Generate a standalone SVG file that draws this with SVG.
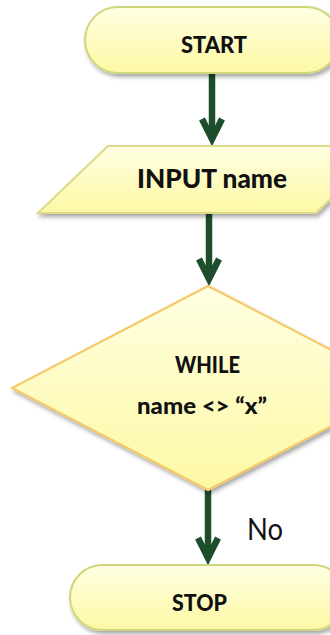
<svg xmlns="http://www.w3.org/2000/svg" width="330" height="635" viewBox="0 0 330 635">
  <style>
    .shape { stroke-width: 2; filter: url(#shadow); }
    .term { fill: url(#paleYellow); stroke: #cfd67c; }
    .io { fill: url(#paleYellow); stroke: #dcd98a; }
    .decision { fill: url(#paleYellow); stroke: #f4c865; }
    .label { font-family: Lato, "Open Sans", sans-serif; font-weight: 900; fill: #111; text-anchor: middle; }
    .flow { stroke: #1e4d2b; stroke-width: 6.5; fill: none; marker-end: url(#chevron); }
    .edge-label { font-family: Lato, "Open Sans", sans-serif; fill: #111; }
  </style>
  <defs>
    <linearGradient id="paleYellow" x1="0" y1="0" x2="0" y2="1">
      <stop offset="0" stop-color="#ffffe2"/>
      <stop offset="1" stop-color="#fdf8a4"/>
    </linearGradient>
    <filter id="shadow" x="-10%" y="-10%" width="130%" height="140%">
      <feDropShadow dx="2" dy="3" stdDeviation="2" flood-color="#000" flood-opacity="0.35"/>
    </filter>
    <marker id="chevron" markerUnits="userSpaceOnUse" markerWidth="40" markerHeight="40" refX="0" refY="0" orient="auto" style="overflow:visible">
      <path d="M -20 -10 L 0 0 L -20 10" fill="none" stroke="#1e4d2b" stroke-width="6.5" stroke-linejoin="miter"/>
    </marker>
  </defs>

  <!-- connectors -->
  <g id="connectors">
    <line class="flow" x1="212" y1="73" x2="212" y2="139"/>
    <line class="flow" x1="209" y1="213" x2="209" y2="279"/>
    <line class="flow" x1="208" y1="490" x2="208" y2="558"/>
    <text class="edge-label" x="247" y="540" font-size="31" textLength="36" lengthAdjust="spacingAndGlyphs">No</text>
  </g>

  <!-- start terminator -->
  <g id="start">
    <rect class="shape term" x="85" y="7" width="254" height="66" rx="33"/>
    <text class="label" x="214" y="52.5" font-size="23" textLength="66" lengthAdjust="spacingAndGlyphs">START</text>
  </g>

  <!-- input -->
  <g id="input-name">
    <polygon class="shape io" points="108,146 386,146 316,213 38,213"/>
    <text class="label" x="212" y="187.5" font-size="27" textLength="150" lengthAdjust="spacingAndGlyphs">INPUT name</text>
  </g>

  <!-- loop condition -->
  <g id="while-condition">
    <polygon class="shape decision" points="208,286 405,388 208,490 12,388"/>
    <text class="label" x="207.5" y="373" font-size="23" textLength="65" lengthAdjust="spacingAndGlyphs">WHILE</text>
    <text class="label" x="202" y="413.5" font-size="23" textLength="130" lengthAdjust="spacingAndGlyphs">name &lt;&gt; “x”</text>
  </g>

  <!-- stop terminator -->
  <g id="stop">
    <rect class="shape term" x="70" y="565" width="276" height="65" rx="32.5"/>
    <text class="label" x="199.5" y="610.5" font-size="22" textLength="55" lengthAdjust="spacingAndGlyphs">STOP</text>
  </g>
</svg>
